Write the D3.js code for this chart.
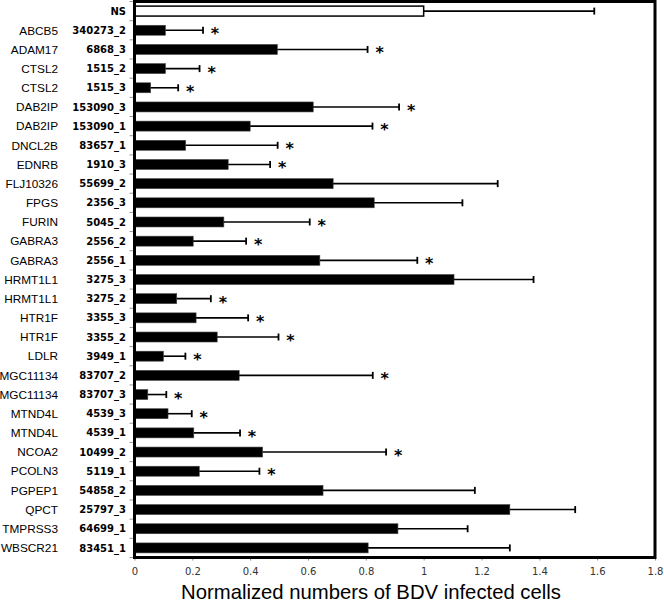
<!DOCTYPE html>
<html>
<head>
<meta charset="utf-8">
<script src="https://cdn.jsdelivr.net/npm/d3@7"></script>
<style>
  body { margin: 0; background: #fff; }
  svg { display: block; }
</style>
</head>
<body>
<svg id="chart" width="664" height="604"></svg>
<script>
// gene name, probe id, mean, sd, significant
const genes = ["", "ABCB5", "ADAM17", "CTSL2", "CTSL2", "DAB2IP", "DAB2IP", "DNCL2B", "EDNRB",
  "FLJ10326", "FPGS", "FURIN", "GABRA3", "GABRA3", "HRMT1L1", "HRMT1L1", "HTR1F", "HTR1F",
  "LDLR", "MGC11134", "MGC11134", "MTND4L", "MTND4L", "NCOA2", "PCOLN3", "PGPEP1", "QPCT",
  "TMPRSS3", "WBSCR21"];
const probes = ["NS", "340273_2", "6868_3", "1515_2", "1515_3", "153090_3", "153090_1", "83657_1",
  "1910_3", "55699_2", "2356_3", "5045_2", "2556_2", "2556_1", "3275_3", "3275_2", "3355_3",
  "3355_2", "3949_1", "83707_2", "83707_3", "4539_3", "4539_1", "10499_2", "5119_1", "54858_2",
  "25797_3", "64699_1", "83451_1"];
const means = [1.0, 0.107, 0.494, 0.107, 0.056, 0.618, 0.40, 0.177, 0.324,
  0.687, 0.829, 0.309, 0.203, 0.641, 1.105, 0.146, 0.213, 0.286,
  0.100, 0.362, 0.046, 0.116, 0.205, 0.443, 0.224, 0.652, 1.298,
  0.911, 0.808];
const sds = [0.59, 0.13, 0.312, 0.118, 0.095, 0.297, 0.423, 0.318, 0.145,
  0.569, 0.305, 0.297, 0.183, 0.337, 0.275, 0.118, 0.18, 0.212,
  0.076, 0.462, 0.064, 0.082, 0.16, 0.427, 0.208, 0.525, 0.226,
  0.241, 0.49];
const signif = [0, 1, 1, 1, 1, 1, 1, 1, 1,
  0, 0, 1, 1, 1, 0, 1, 1, 1,
  1, 1, 1, 1, 1, 1, 1, 0, 0,
  0, 0];
const xTicks = [0, 0.2, 0.4, 0.6, 0.8, 1, 1.2, 1.4, 1.6, 1.8];

const rows = probes.map((p, i) => ({ i, gene: genes[i], probe: p, mean: means[i], sd: sds[i], sig: signif[i] }));

const svg = d3.select("#chart");
const pLeft = 134.5, pRight = 655, pTop = 1.5, pBottom = 557.5;

const x = d3.scaleLinear().domain([0, 1.8]).range([pLeft, pRight]);
const y = d3.scaleBand().domain(rows.map(d => d.i)).range([pTop, pBottom]).paddingInner(0.48).paddingOuter(0.24);
const band = y.step();

// category ticks on the left
svg.append("g").selectAll("line").data(d3.range(rows.length + 1)).join("line")
  .attr("x1", pLeft - 5).attr("x2", pLeft)
  .attr("y1", k => pTop + k * band).attr("y2", k => pTop + k * band)
  .attr("stroke", "#999").attr("stroke-width", 1);

// bars
svg.append("g").selectAll("rect").data(rows).join("rect")
  .attr("x", x(0))
  .attr("y", d => y(d.i))
  .attr("width", d => x(d.mean) - x(0))
  .attr("height", y.bandwidth())
  .attr("fill", d => d.i === 0 ? "#fff" : "#000")
  .attr("stroke", d => d.i === 0 ? "#000" : "#444")
  .attr("stroke-width", d => d.i === 0 ? 1.5 : 0.6);

// error bars
const eb = svg.append("g").attr("stroke", "#000").attr("stroke-width", 1.6);
rows.forEach(d => {
  const cy = y(d.i) + y.bandwidth() / 2;
  const x1 = x(d.mean), x2 = x(d.mean + d.sd);
  eb.append("line").attr("x1", x1).attr("x2", x2).attr("y1", cy).attr("y2", cy);
  eb.append("line").attr("x1", x2).attr("x2", x2).attr("y1", cy - 3.5).attr("y2", cy + 3.5).attr("stroke-width", 1.8);
});

// significance stars
svg.append("g").selectAll("text").data(rows.filter(d => d.sig)).join("text")
  .attr("x", d => x(d.mean + d.sd) + 12)
  .attr("y", d => y(d.i) + y.bandwidth() / 2 + 9)
  .attr("text-anchor", "middle")
  .attr("font-family", "DejaVu Sans")
  .attr("font-weight", "bold")
  .attr("font-size", 16)
  .attr("fill", "#000")
  .text("*");

// gene labels
svg.append("g").selectAll("text").data(rows).join("text")
  .attr("x", 58)
  .attr("y", d => y(d.i) + y.bandwidth() / 2)
  .attr("dy", "0.36em")
  .attr("text-anchor", "end")
  .attr("font-family", "Liberation Sans, Arial, sans-serif")
  .attr("font-size", 11.8)
  .text(d => d.gene);

// probe labels
svg.append("g").selectAll("text").data(rows).join("text")
  .attr("x", 126)
  .attr("y", d => y(d.i) + y.bandwidth() / 2)
  .attr("dy", "0.36em")
  .attr("text-anchor", "end")
  .attr("font-family", "DejaVu Sans")
  .attr("font-weight", "bold")
  .attr("font-size", 10)
  .text(d => d.probe);

// x axis
const xAxis = svg.append("g")
  .attr("transform", `translate(0,${pBottom})`)
  .call(d3.axisBottom(x).tickValues(xTicks).tickSize(3).tickFormat(d3.format("")));
xAxis.select(".domain").remove();
xAxis.selectAll("line").attr("stroke", "#888");
xAxis.selectAll("text")
  .attr("font-family", "DejaVu Sans")
  .attr("font-size", 10)
  .attr("fill", "#333")
  .attr("dy", "1.1em");

// frame
svg.append("rect")
  .attr("x", pLeft).attr("y", pTop)
  .attr("width", pRight - pLeft).attr("height", pBottom - pTop)
  .attr("fill", "none").attr("stroke", "#000").attr("stroke-width", 3);

svg.append("text")
  .attr("x", 371)
  .attr("y", 599)
  .attr("text-anchor", "middle")
  .attr("font-family", "Liberation Sans, Arial, sans-serif")
  .attr("font-size", 20.3)
  .text("Normalized numbers of BDV infected cells");
</script>
</body>
</html>
